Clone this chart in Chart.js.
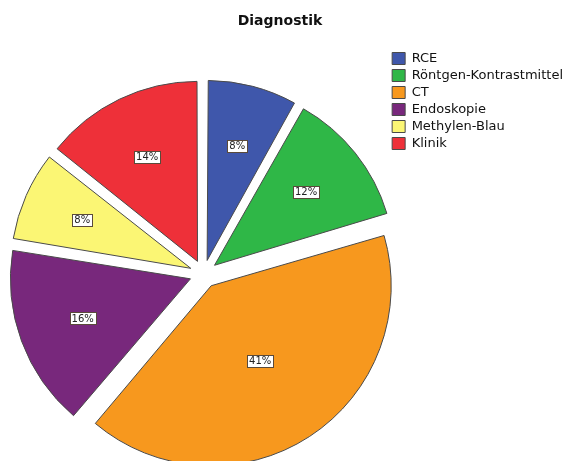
<!DOCTYPE html>
<html>
<head>
<meta charset="utf-8">
<script src="https://cdn.jsdelivr.net/npm/chart.js@4"></script>
<style>
  html, body { margin: 0; padding: 0; background: #fff; overflow: hidden; }
  #wrap { width: 570px; height: 500px; position: relative; }
</style>
</head>
<body>
<div id="wrap"><canvas id="pieChart"></canvas></div>
<script>
// Diagnostik - counts per category (percentages)
const categories = ['RCE', 'Röntgen-Kontrastmittel', 'CT', 'Endoskopie', 'Methylen-Blau', 'Klinik'];
const counts = [4, 6, 20, 8, 4, 7];
const colors = ['#3F57AB', '#2FB747', '#F7981E', '#78287C', '#FBF674', '#EE3039'];
const chartTitle = 'Diagnostik';

const total = counts.reduce((a, b) => a + b, 0);
const EXPLODE = 14;   // how far each slice is pulled out (px)
const RADIUS = 180;

// Chart.js moves an arc by offset/4 and also grows its radius a bit, undo the growth
const fixRadius = {
    id: 'fixRadius',
    afterDatasetsUpdate(chart) {
        chart.getDatasetMeta(0).data.forEach(arc => {
            const fix = 1 - Math.sin(Math.min(Math.PI, arc.circumference));
            arc.outerRadius = RADIUS - EXPLODE * fix;
        });
    }
};

// title centred over the whole picture (built-in title would follow layout padding)
const topTitle = {
    id: 'topTitle',
    afterDraw(chart) {
        const ctx = chart.ctx;
        ctx.save();
        ctx.font = 'bold 14px "DejaVu Sans"';
        ctx.fillStyle = '#111';
        ctx.textAlign = 'center';
        ctx.textBaseline = 'middle';
        ctx.fillText(chartTitle, 280, 21);
        ctx.restore();
    }
};

// white percentage boxes at the centroid of each slice
const pctLabels = {
    id: 'pctLabels',
    afterDatasetsDraw(chart) {
        const ctx = chart.ctx;
        ctx.save();
        ctx.font = '10px "DejaVu Sans"';
        ctx.textAlign = 'center';
        ctx.textBaseline = 'middle';
        chart.getDatasetMeta(0).data.forEach((arc, i) => {
            const mid = (arc.startAngle + arc.endAngle) / 2;
            const a = arc.circumference;
            const dist = EXPLODE + 4 * RADIUS * Math.sin(a / 2) / (3 * a);
            const x = arc.x + Math.cos(mid) * dist;
            const y = arc.y + Math.sin(mid) * dist;
            const txt = Math.round(counts[i] / total * 100) + '%';
            const w = Math.round(ctx.measureText(txt).width + 4);
            const h = 12;
            const bx = Math.round(x - w / 2) + 0.5;
            const by = Math.round(y - h / 2) + 0.5;
            ctx.fillStyle = '#fff';
            ctx.fillRect(bx, by, w, h);
            ctx.strokeStyle = '#5a4a3a';
            ctx.lineWidth = 1;
            ctx.strokeRect(bx, by, w, h);
            ctx.fillStyle = '#222';
            ctx.fillText(txt, x, y + 0.5);
        });
        ctx.restore();
    }
};

const pieCtx = document.getElementById('pieChart');
new Chart(pieCtx, {
    type: 'pie',
    data: {
        labels: categories,
        datasets: [{
            data: counts,
            backgroundColor: colors,
            borderColor: '#4a4a4a',
            borderWidth: 1,
            offset: EXPLODE * 4
        }]
    },
    options: {
        responsive: true,
        maintainAspectRatio: false,
        animation: false,
        radius: RADIUS,
        layout: {
            padding: { left: 19, right: -3, top: 48, bottom: 0 }
        },
        plugins: {
            title: { display: false },
            legend: {
                position: 'right',
                align: 'start',
                labels: {
                    boxWidth: 13,
                    boxHeight: 12,
                    padding: 4,
                    color: '#111',
                    font: { family: '"DejaVu Sans"', size: 13 }
                }
            },
            tooltip: { enabled: false }
        }
    },
    plugins: [fixRadius, pctLabels, topTitle]
});
</script>
</body>
</html>
